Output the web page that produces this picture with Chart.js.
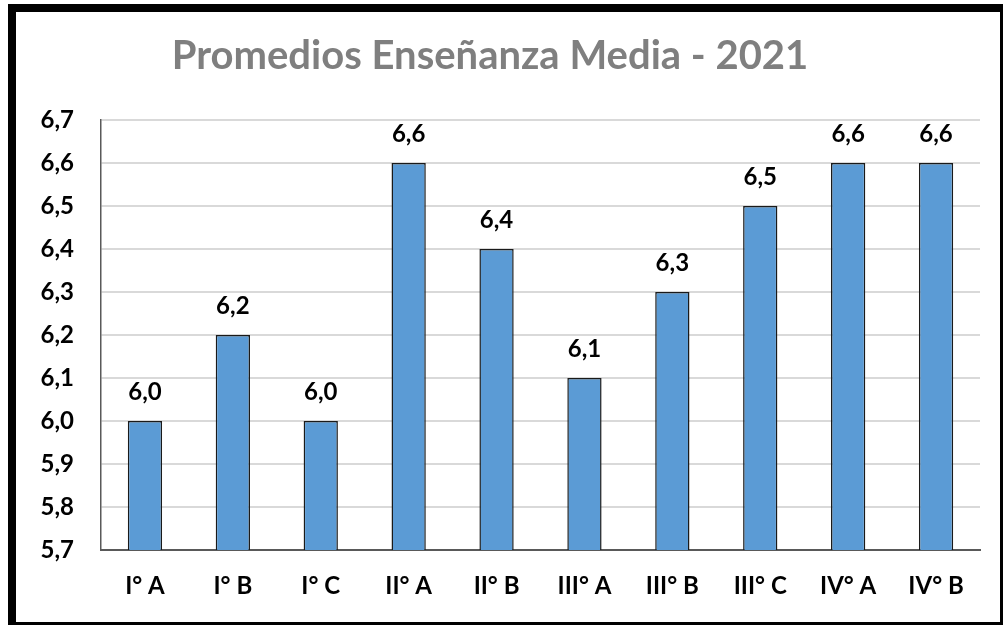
<!DOCTYPE html>
<html>
<head>
<meta charset="utf-8">
<script src="https://cdn.jsdelivr.net/npm/chart.js@4.4.1/dist/chart.umd.min.js"></script>
<style>
  html, body { margin: 0; padding: 0; background: #fff; overflow: hidden; }
  #wrap { position: relative; width: 1003px; height: 625px; overflow: hidden; }
  #frame { position: absolute; left: 8px; top: 4px; width: 984px; height: 610px; border: 8px solid #000; pointer-events: none; }
</style>
</head>
<body>
<div id="wrap">
  <canvas id="c" width="1003" height="625"></canvas>
  <div id="frame"></div>
</div>
<script>
const titleText = 'Promedios Enseñanza Media - 2021';
const categories = ['I° A', 'I° B', 'I° C', 'II° A', 'II° B', 'III° A', 'III° B', 'III° C', 'IV° A', 'IV° B'];
const values = [6.0, 6.2, 6.0, 6.6, 6.4, 6.1, 6.3, 6.5, 6.6, 6.6];
const yMin = 5.7, yMax = 6.7, yStep = 0.1;

const FONT = "Lato, 'Open Sans', sans-serif";
const fmt = v => Number(v).toFixed(1).replace('.', ',');

const valueLabels = {
  id: 'valueLabels',
  afterDatasetsDraw(chart) {
    const ctx = chart.ctx;
    const meta = chart.getDatasetMeta(0);
    ctx.save();
    ctx.font = 'bold 24px ' + FONT;
    ctx.fillStyle = '#000';
    ctx.textAlign = 'center';
    ctx.textBaseline = 'middle';
    meta.data.forEach((bar, i) => {
      ctx.fillText(fmt(values[i]), bar.x, bar.y - 29);
    });
    ctx.restore();
  }
};

new Chart(document.getElementById('c'), {
  type: 'bar',
  data: {
    labels: categories,
    datasets: [{
      data: values,
      backgroundColor: '#5B9BD5',
      borderColor: '#1a1a1a',
      borderWidth: 1.5,
      barPercentage: 0.39,
      categoryPercentage: 1.0
    }]
  },
  options: {
    responsive: false,
    animation: false,
    events: [],
    layout: { padding: { left: 0, right: 23, top: 0, bottom: 0 } },
    plugins: {
      legend: { display: false },
      tooltip: { enabled: false },
      title: {
        display: true,
        text: titleText,
        color: '#7F7F7F',
        font: { family: FONT, size: 40, weight: 'bold', lineHeight: 1.2 },
        padding: { top: 32, bottom: 40 }
      }
    },
    scales: {
      x: {
        grid: { display: false, drawTicks: false },
        border: { display: true, color: '#595959', width: 2 },
        ticks: { color: '#000', font: { family: FONT, size: 24, weight: 'bold' }, padding: 22, maxRotation: 0 },
        afterFit(scale) { scale.height = 75; }
      },
      y: {
        min: yMin, max: yMax,
        grid: {
          drawTicks: false,
          color: ctx => (Math.abs(ctx.tick.value - yMin) < 1e-6 ? '#595959' : '#D9D9D9'),
          lineWidth: 2
        },
        border: { display: true, color: '#595959', width: 1.5 },
        ticks: {
          stepSize: yStep,
          color: '#000',
          font: { family: FONT, size: 24, weight: 'bold' },
          padding: 27,
          callback: v => fmt(v)
        },
        afterFit(scale) { scale.width = 101; }
      }
    }
  },
  plugins: [valueLabels]
});
</script>
</body>
</html>
